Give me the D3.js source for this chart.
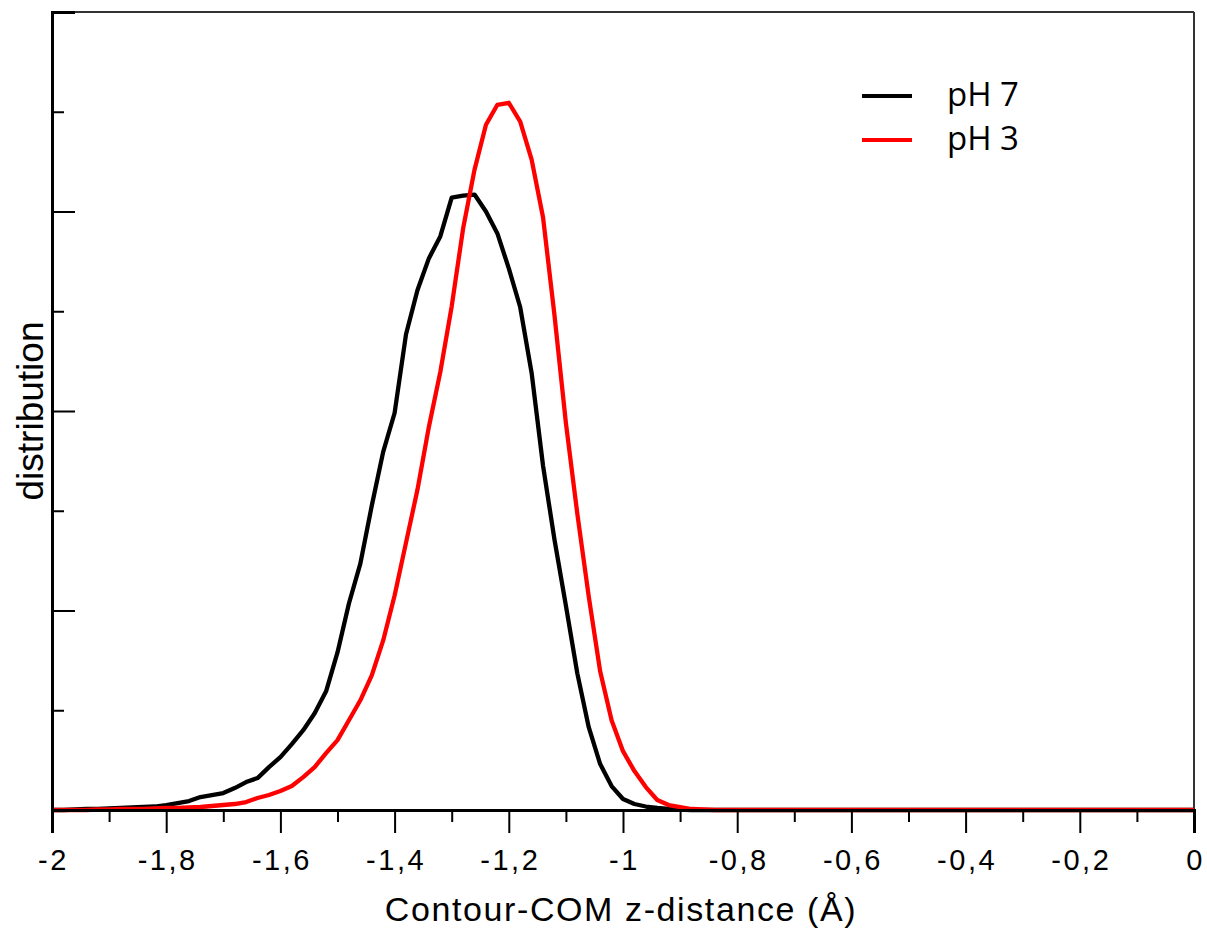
<!DOCTYPE html>
<html>
<head>
<meta charset="utf-8">
<script src="https://cdn.jsdelivr.net/npm/d3@7"></script>
<style>
  html, body { margin: 0; padding: 0; background: #fff; }
  svg { display: block; }
</style>
</head>
<body>
<svg id="chart" width="1207" height="933"></svg>
<script>
// ---- data ----
const xValues = [-2.00,-1.98,-1.96,-1.94,-1.92,-1.90,-1.88,-1.86,-1.84,-1.82,-1.80,-1.78,-1.76,-1.74,-1.72,-1.70,-1.68,-1.66,-1.64,-1.62,-1.60,-1.58,-1.56,-1.54,-1.52,-1.50,-1.48,-1.46,-1.44,-1.42,-1.40,-1.38,-1.36,-1.34,-1.32,-1.30,-1.28,-1.26,-1.24,-1.22,-1.20,-1.18,-1.16,-1.14,-1.12,-1.10,-1.08,-1.06,-1.04,-1.02,-1.00,-0.98,-0.96,-0.94,-0.92,-0.90,-0.88,-0.86,-0.84,-0.80,-0.70,-0.60,-0.50,-0.40,-0.30,-0.20,-0.10,0.00];
const ph7 = [0,0,0.005,0.01,0.01,0.015,0.02,0.025,0.03,0.035,0.05,0.07,0.09,0.13,0.15,0.17,0.22,0.28,0.32,0.43,0.53,0.66,0.80,0.97,1.19,1.58,2.07,2.47,3.05,3.59,3.98,4.77,5.21,5.53,5.75,6.14,6.16,6.17,6.00,5.78,5.43,5.04,4.38,3.45,2.71,2.05,1.37,0.83,0.46,0.24,0.11,0.06,0.035,0.02,0.01,0.005,0,0,0,0,0,0,0,0,0,0,0,0];
const ph3 = [0,0,0,0,0.005,0.005,0.01,0.01,0.01,0.015,0.02,0.02,0.025,0.03,0.04,0.05,0.06,0.08,0.12,0.15,0.19,0.24,0.33,0.43,0.57,0.70,0.90,1.10,1.35,1.70,2.15,2.68,3.21,3.84,4.39,5.05,5.83,6.42,6.87,7.07,7.09,6.90,6.52,5.94,4.96,3.88,2.97,2.14,1.39,0.90,0.59,0.39,0.23,0.10,0.05,0.03,0.01,0.005,0,0,0,0,0,0,0,0,0,0];
const seriesNames = ["pH 7", "pH 3"];
const seriesColors = ["#000000", "#ff0000"];
const xTickValues = [-2,-1.8,-1.6,-1.4,-1.2,-1,-0.8,-0.6,-0.4,-0.2,0];
const xTickLabels = ["-2","-1,8","-1,6","-1,4","-1,2","-1","-0,8","-0,6","-0,4","-0,2","0"];
const xMinorTicks = [-1.9,-1.7,-1.5,-1.3,-1.1,-0.9,-0.7,-0.5,-0.3,-0.1];
const yMajorTicks = [0,2,4,6,8];
const yMinorTicks = [1,3,5,7];
const xTitle = "Contour-COM z-distance (Å)";
const yTitle = "distribution";

// ---- layout ----
const L = 52, R = 1194, T = 12, B = 810;
const svg = d3.select("#chart");
const x = d3.scaleLinear().domain([-2, 0]).range([L, R]);
const y = d3.scaleLinear().domain([0, 8]).range([B, T]);

// frame top/right
svg.append("line").attr("x1", L).attr("x2", R).attr("y1", T).attr("y2", T)
  .attr("stroke", "#333").attr("stroke-width", 2);
svg.append("line").attr("x1", R).attr("x2", R).attr("y1", T).attr("y2", B)
  .attr("stroke", "#333").attr("stroke-width", 2);

// curves
const line = d3.line().x((d, i) => x(xValues[i])).y(d => y(d));
[ph7, ph3].forEach((s, k) => {
  svg.append("path").datum(s)
    .attr("d", line)
    .attr("fill", "none")
    .attr("stroke", seriesColors[k])
    .attr("stroke-width", 4.3)
    .attr("stroke-linejoin", "round");
});

// x axis
const xAxis = svg.append("g").attr("transform", `translate(0,${B})`)
  .call(d3.axisBottom(x).tickValues(xTickValues).tickSize(23).tickPadding(16)
    .tickFormat((d, i) => xTickLabels[i]));
xAxis.select(".domain").attr("stroke", "#000").attr("stroke-width", 3);
xAxis.selectAll(".tick line").attr("stroke", "#000").attr("stroke-width", 2);
xAxis.selectAll(".tick text")
  .style("font-family", "'Liberation Sans', Arial, sans-serif")
  .style("font-size", "29px").style("letter-spacing", "2.5px")
  .attr("dx", "1px").attr("fill", "#000");
const xMinor = svg.append("g").attr("transform", `translate(0,${B})`)
  .call(d3.axisBottom(x).tickValues(xMinorTicks).tickSize(12).tickFormat(""));
xMinor.select(".domain").remove();
xMinor.selectAll(".tick line").attr("stroke", "#000").attr("stroke-width", 2);

// y axis (ticks inward)
const yAxis = svg.append("g").attr("transform", `translate(${L},0)`)
  .call(d3.axisRight(y).tickValues(yMajorTicks).tickSize(23).tickFormat(""));
yAxis.select(".domain").attr("stroke", "#000").attr("stroke-width", 3);
yAxis.selectAll(".tick line").attr("stroke", "#000").attr("stroke-width", 2);
const yMinor = svg.append("g").attr("transform", `translate(${L},0)`)
  .call(d3.axisRight(y).tickValues(yMinorTicks).tickSize(12).tickFormat(""));
yMinor.select(".domain").remove();
yMinor.selectAll(".tick line").attr("stroke", "#000").attr("stroke-width", 2);

// titles
svg.append("text").attr("x", 621).attr("y", 921)
  .attr("text-anchor", "middle")
  .style("font-family", "'Liberation Sans', Arial, sans-serif")
  .style("font-size", "34px").style("letter-spacing", "1.6px")
  .attr("fill", "#000").text(xTitle);
svg.append("text")
  .attr("transform", `translate(43,411) rotate(-90)`)
  .attr("text-anchor", "middle")
  .style("font-family", "'Liberation Sans', Arial, sans-serif")
  .style("font-size", "37px")
  .attr("fill", "#000").text(yTitle);

// legend
const legend = svg.append("g");
seriesNames.forEach((name, k) => {
  const ly = 96 + k * 44;
  legend.append("line").attr("x1", 862).attr("x2", 912).attr("y1", ly).attr("y2", ly)
    .attr("stroke", seriesColors[k]).attr("stroke-width", 4);
  legend.append("text").attr("x", 947).attr("y", ly + 10)
    .style("font-family", "'Open Sans', sans-serif")
    .style("font-size", "33px").attr("fill", "#000").text(name);
});
</script>
</body>
</html>
